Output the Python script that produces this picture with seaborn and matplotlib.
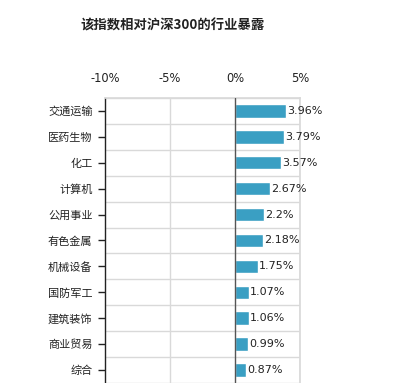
import matplotlib
matplotlib.use("Agg")
import matplotlib.pyplot as plt
import seaborn as sns
import pandas as pd
from matplotlib.ticker import FixedLocator

industries = ["交通运输", "医药生物", "化工", "计算机", "公用事业", "有色金属",
              "机械设备", "国防军工", "建筑装饰", "商业贸易", "综合"]
exposure = [3.96, 3.79, 3.57, 2.67, 2.2, 2.18, 1.75, 1.07, 1.06, 0.99, 0.87]
value_labels = ["3.96%", "3.79%", "3.57%", "2.67%", "2.2%", "2.18%",
                "1.75%", "1.07%", "1.06%", "0.99%", "0.87%"]
x_ticks = [-10, -5, 0, 5]
x_tick_labels = ["-10%", "-5%", "0%", "5%"]

df = pd.DataFrame({"industry": industries, "exposure": exposure})

sns.set_theme(style="white")
plt.rcParams['font.family'] = ['Noto Sans CJK SC', 'DejaVu Sans']

fig = plt.figure(figsize=(4.06, 3.83), dpi=100)
ax = fig.add_axes([105/406, -7/383, 195/406, (383 - 98 + 7)/383])

sns.barplot(data=df, x="exposure", y="industry", orient="h",
            color="#3a9fc3", width=0.52, ax=ax, saturation=1)

n = len(industries)
ax.set_xlim(-10, 5)
ax.set_ylim(n - 0.5 + 7/25.6, -0.5)

# gridlines between categories and at -5 / 5
ax.yaxis.set_minor_locator(FixedLocator([i - 0.5 for i in range(n + 1)]))
ax.grid(True, axis="y", which="minor", color="#d9d9d9", lw=1)
for xv in [-5, 5]:
    ax.axvline(xv, color="#d9d9d9", lw=1, zorder=0)
ax.axvline(0, color="#555555", lw=1, zorder=3)

ax.xaxis.tick_top()
ax.set_xticks(x_ticks)
ax.set_xticklabels(x_tick_labels, family="DejaVu Sans", fontsize=8.3, color="#222222")
ax.tick_params(axis="x", length=0, pad=9)
ax.tick_params(axis="y", which="major", left=True, length=5, width=1,
               color="#222222", labelsize=8, labelcolor="#222222", pad=4)
ax.tick_params(axis="y", which="minor", left=False)
ax.set_xlabel("")
ax.set_ylabel("")

for s in ["top", "right", "bottom"]:
    ax.spines[s].set_color("#d9d9d9")
ax.spines["left"].set_color("#222222")
ax.spines["left"].set_linewidth(1)

for i, (v, lab) in enumerate(zip(exposure, value_labels)):
    ax.text(v + 0.08, i, lab, va="center", ha="left", fontsize=8,
            family="DejaVu Sans", color="#222222", clip_on=False)

fig.text(80/406, 1 - 26/383, "该指数相对沪深300的行业暴露", fontsize=9.6,
         fontweight="bold", color="#222222", va="center", ha="left")

fig.savefig("out.png", dpi=100)
